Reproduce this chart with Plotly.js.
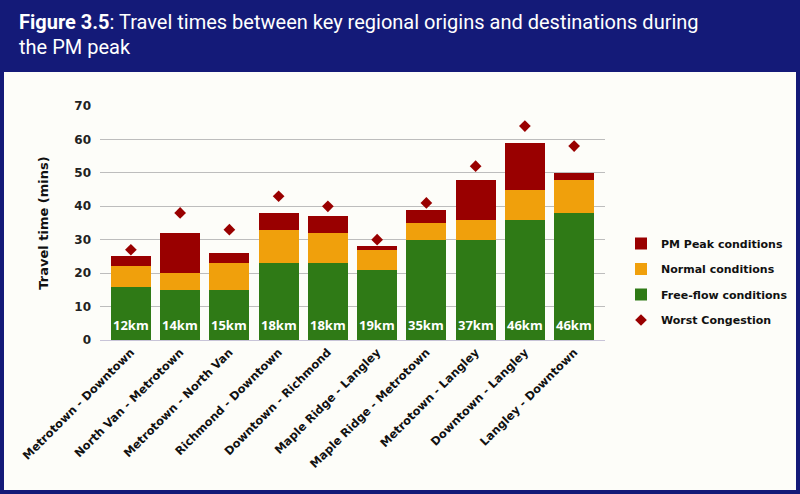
<!DOCTYPE html>
<html><head><meta charset="utf-8">
<script src="https://cdn.plot.ly/plotly-3.0.1.min.js"></script>
<style>html,body{margin:0;padding:0;background:#fff}#c{width:800px;height:494px}</style>
</head><body><div id="c"></div>
<script>
const routes = ["Metrotown - Downtown","North Van - Metrotown","Metrotown - North Van","Richmond - Downtown","Downtown - Richmond","Maple Ridge - Langley","Maple Ridge - Metrotown","Metrotown - Langley","Downtown - Langley","Langley - Downtown"];
const distances = ["12km","14km","15km","18km","18km","19km","35km","37km","46km","46km"];
const freeFlow = [16,15,15,23,23,21,30,30,36,38];
const normal   = [6,5,8,10,9,6,5,6,9,10];
const pmPeak   = [3,12,3,5,5,1,4,12,14,2];
const worst    = [27,38,33,43,40,30,41,52,64,58];

const W=800,H=494,L=100,R=195,T=106,B=154;
const pw=W-L-R, ph=H-T-B;
const px=x=>(x-L)/pw, py=y=>(H-B-y)/ph;
const FONT="Open Sans";
const XF="DejaVu Sans";

const traces=[
 {type:'bar',name:'Free-flow conditions',x:routes,y:freeFlow,marker:{color:'#2f7a16'},legendrank:3,legendgroup:'g3',hoverinfo:'y'},
 {type:'bar',name:'Normal conditions',x:routes,y:normal,marker:{color:'#f0a00c'},legendrank:2,legendgroup:'g2',hoverinfo:'y'},
 {type:'bar',name:'PM Peak conditions',x:routes,y:pmPeak,marker:{color:'#990000'},legendrank:1,legendgroup:'g1',hoverinfo:'y'},
 {type:'scatter',mode:'markers',name:'Worst Congestion',x:routes,y:worst,marker:{symbol:'diamond',color:'#990000',size:9},legendrank:4,legendgroup:'g4'}
];

const annotations=routes.map((r,i)=>({x:r,y:0,xref:'x',yref:'y',text:distances[i],showarrow:false,yanchor:'bottom',yshift:4,font:{family:FONT,size:13,color:'#ffffff',weight:700}}));
annotations.push({xref:'paper',yref:'paper',x:px(17),y:py(22),xanchor:'left',yanchor:'middle',align:'left',showarrow:false,
 text:'<b>Figure 3.5</b>: Travel times between key regional origins and destinations during',
 font:{family:'Roboto',size:20,color:'#ffffff'}});
annotations.push({xref:'paper',yref:'paper',x:px(17),y:py(47),xanchor:'left',yanchor:'middle',align:'left',showarrow:false,
 text:'the PM peak',
 font:{family:'Roboto',size:20,color:'#ffffff'}});

const layout={
 width:W,height:H,
 margin:{l:L,r:R,t:T,b:B,autoexpand:false},
 paper_bgcolor:'#141a78',
 plot_bgcolor:'rgba(0,0,0,0)',
 barmode:'stack',bargap:0.19,
 xaxis:{tickangle:-45,tickfont:{family:XF,size:11.5,color:'#111',weight:700},showgrid:false,showline:true,linecolor:'#c8c4d8',ticks:'',automargin:false},
 yaxis:{range:[0,70],dtick:10,gridcolor:'#bdbdbd',gridwidth:1,zeroline:false,ticklabelstandoff:8,automargin:false,
  tickfont:{family:XF,size:12,color:'#222',weight:700},
  title:{text:'Travel time (mins)',font:{family:XF,size:13,color:'#111',weight:700},standoff:22}},
 legend:{x:px(621),y:py(229),xanchor:'left',yanchor:'top',traceorder:'grouped',font:{family:XF,size:11,color:'#111',weight:700},tracegroupgap:6.5,itemwidth:30,bgcolor:'rgba(0,0,0,0)'},
 shapes:[
  {type:'rect',xref:'paper',yref:'paper',layer:'below',x0:px(4),x1:px(796),y0:py(490),y1:py(72),fillcolor:'#fdfdf9',line:{width:0}}
 ],
 annotations:annotations,
 showlegend:true
};
Plotly.newPlot('c',traces,layout,{displayModeBar:false});
</script></body></html>
